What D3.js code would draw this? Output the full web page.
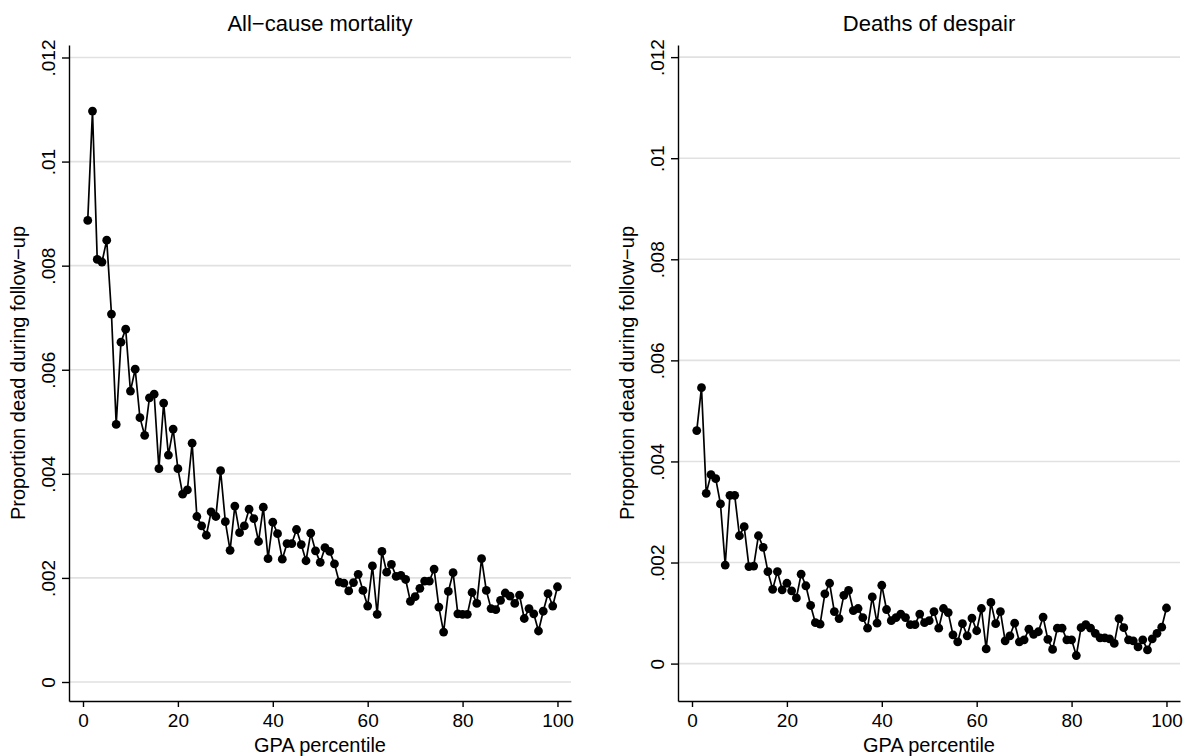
<!DOCTYPE html>
<html>
<head>
<meta charset="utf-8">
<script src="https://cdn.jsdelivr.net/npm/d3@7"></script>
<style>
body { margin: 0; background: #fff; }
svg { display: block; font-family: "Liberation Sans", Arial, Helvetica, sans-serif; }
</style>
</head>
<body>
<svg id="chart"></svg>
<script>
var width = 1189;
var height = 756;

// GPA percentile (x) for both panels
var percentile = [1,2,3,4,5,6,7,8,9,10,11,12,13,14,15,16,17,18,19,20,
  21,22,23,24,25,26,27,28,29,30,31,32,33,34,35,36,37,38,39,40,
  41,42,43,44,45,46,47,48,49,50,51,52,53,54,55,56,57,58,59,60,
  61,62,63,64,65,66,67,68,69,70,71,72,73,74,75,76,77,78,79,80,
  81,82,83,84,85,86,87,88,89,90,91,92,93,94,95,96,97,98,99,100];

// proportion dead during follow-up
var allCause = [.00887,.01097,.00812,.00807,.00849,.00707,.00495,.00653,.00678,.00559,
  .00601,.00508,.00474,.00546,.00553,.00410,.00536,.00436,.00486,.00410,
  .00361,.00369,.00459,.00318,.00300,.00282,.00327,.00318,.00406,.00308,
  .00253,.00338,.00287,.00300,.00332,.00314,.00270,.00336,.00237,.00307,
  .00285,.00236,.00266,.00266,.00293,.00264,.00233,.00286,.00252,.00230,
  .00258,.00251,.00227,.00192,.00190,.00175,.00191,.00207,.00176,.00146,
  .00223,.00130,.00251,.00211,.00226,.00203,.00205,.00197,.00155,.00164,
  .00180,.00194,.00194,.00217,.00144,.00096,.00174,.00210,.00131,.00130,
  .00130,.00172,.00151,.00237,.00176,.00141,.00139,.00157,.00171,.00165,
  .00151,.00167,.00122,.00141,.00131,.00098,.00136,.00170,.00146,.00183];

var despair = [.00461,.00546,.00337,.00374,.00366,.00316,.00195,.00333,.00333,.00253,
  .00271,.00192,.00193,.00253,.00230,.00182,.00147,.00182,.00146,.00159,
  .00144,.00130,.00177,.00154,.00115,.00081,.00078,.00138,.00159,.00103,
  .00089,.00135,.00145,.00105,.00109,.00091,.00070,.00132,.00080,.00155,
  .00107,.00085,.00091,.00098,.00091,.00077,.00077,.00098,.00081,.00085,
  .00103,.00070,.00109,.00101,.00057,.00043,.00079,.00055,.00090,.00065,
  .00109,.00029,.00121,.00079,.00103,.00045,.00055,.00080,.00043,.00047,
  .00068,.00058,.00063,.00092,.00048,.00028,.00070,.00070,.00047,.00047,
  .00016,.00071,.00077,.00070,.00060,.00051,.00051,.00049,.00040,.00089,
  .00071,.00047,.00045,.00033,.00047,.00027,.00049,.00060,.00072,.00110];

var yTicks = [0, .002, .004, .006, .008, .01, .012];
var xTicks = [0, 20, 40, 60, 80, 100];
var titles = ["All\u2212cause mortality", "Deaths of despair"];
var yTitle = "Proportion dead during follow\u2212up";
var xTitle = "GPA percentile";

var svg = d3.select("#chart")
  .attr("width", width)
  .attr("height", height);

svg.append("rect").attr("width", width).attr("height", height).attr("fill", "#fff");

function fmtY(d){
  if (d === 0) return "0";
  return d3.format(".3~f")(d).replace(/^0/, "");
}

function drawPanel(left, series, title, yLow){
  var plotL = left, plotR = left + 502;
  var top = 45, bottom = 701;

  var x = d3.scaleLinear().domain([-2.95, 102.85]).range([plotL, plotR]);
  var y = d3.scaleLinear().domain([yLow, .01224]).range([bottom, top]);

  var g = svg.append("g");

  g.selectAll("line.grid")
    .data(yTicks)
    .enter().append("line")
    .attr("class", "grid")
    .attr("x1", plotL).attr("x2", plotR)
    .attr("y1", function(d){ return y(d); })
    .attr("y2", function(d){ return y(d); })
    .attr("stroke", "#e1e1e1")
    .attr("stroke-width", 1.6);

  var line = d3.line()
    .x(function(d, i){ return x(percentile[i]); })
    .y(function(d){ return y(d); });

  g.append("path")
    .datum(series)
    .attr("d", line)
    .attr("fill", "none")
    .attr("stroke", "#000")
    .attr("stroke-width", 1.7)
    .attr("stroke-linejoin", "round");

  g.selectAll("circle")
    .data(series)
    .enter().append("circle")
    .attr("cx", function(d, i){ return x(percentile[i]); })
    .attr("cy", function(d){ return y(d); })
    .attr("r", 4.4)
    .attr("fill", "#000");

  var yAxis = g.append("g")
    .attr("transform", "translate(" + plotL + ",0)")
    .call(d3.axisLeft(y).tickValues(yTicks).tickFormat(fmtY).tickSize(7).tickSizeOuter(0));
  yAxis.selectAll("text")
    .attr("x", null).attr("dy", null)
    .attr("text-anchor", "middle")
    .attr("transform", "translate(-14,0) rotate(-90)");

  var xAxis = g.append("g")
    .attr("transform", "translate(0," + bottom + ")")
    .call(d3.axisBottom(x).tickValues(xTicks).tickSize(6).tickPadding(7).tickSizeOuter(0));

  [yAxis, xAxis].forEach(function(a){
    a.select(".domain").attr("stroke", "#000").attr("stroke-width", 1.4);
    a.selectAll(".tick line").attr("stroke", "#000").attr("stroke-width", 1.4);
    a.selectAll("text").attr("font-size", 19).attr("fill", "#000")
      .attr("font-family", "Liberation Sans, Arial, sans-serif");
  });

  g.append("text")
    .attr("x", (plotL + plotR) / 2).attr("y", 31)
    .attr("text-anchor", "middle")
    .attr("font-size", 22)
    .text(title);

  g.append("text")
    .attr("x", (plotL + plotR) / 2).attr("y", 752)
    .attr("text-anchor", "middle")
    .attr("font-size", 20)
    .text(xTitle);

  g.append("text")
    .attr("transform", "translate(" + (plotL - 44) + "," + ((top + bottom) / 2) + ") rotate(-90)")
    .attr("text-anchor", "middle")
    .attr("font-size", 20)
    .text(yTitle);
}

drawPanel(69, allCause, titles[0], -0.000365);
drawPanel(678, despair, titles[1], -0.00074);
</script>
</body>
</html>
